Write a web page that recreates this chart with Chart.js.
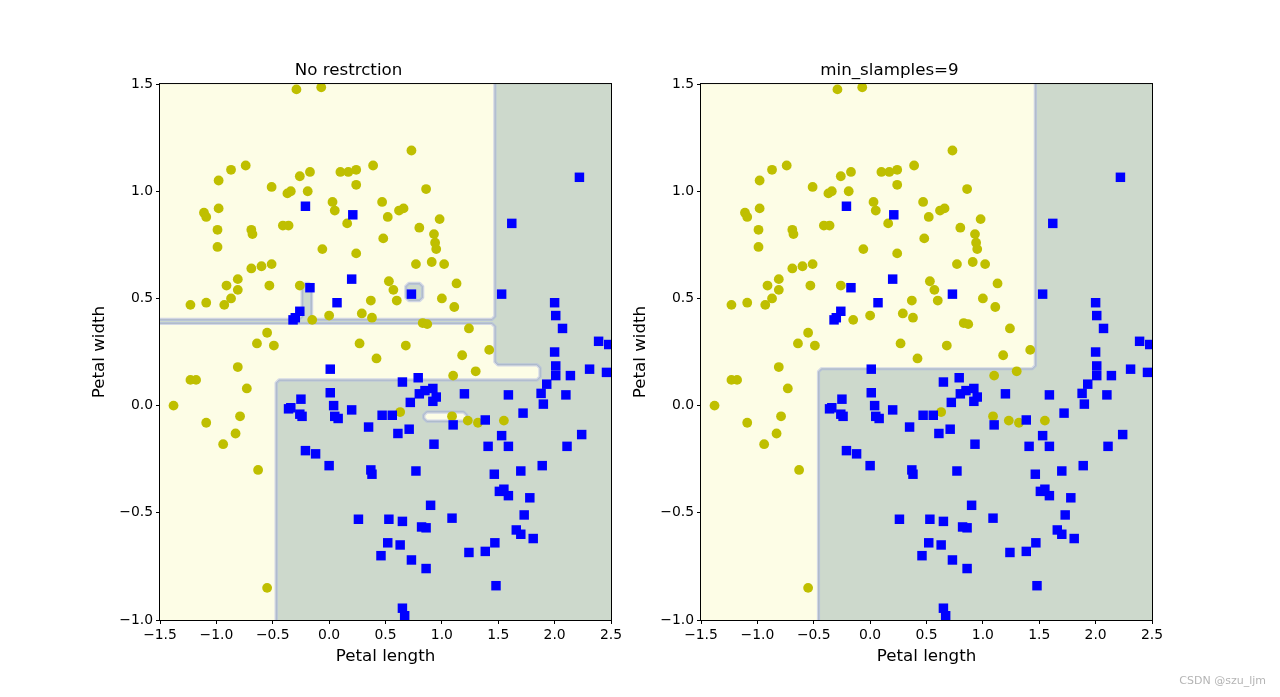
<!DOCTYPE html>
<html>
<head>
<meta charset="utf-8">
<script src="https://cdn.jsdelivr.net/npm/chart.js@4.4.0/dist/chart.umd.min.js"></script>
<style>
html, body { margin: 0; padding: 0; background: #fff; }
body { width: 1280px; height: 697px; position: relative; overflow: hidden; }
canvas { position: absolute; top: 0; }
#c1 { left: 0; }
#c2 { left: 541px; }
#wm { position: absolute; right: 14px; top: 674px; font: 11px "DejaVu Sans"; color: #b4b4b4; }
</style>
</head>
<body>
<canvas id="c1" width="640" height="697"></canvas>
<canvas id="c2" width="640" height="697"></canvas>
<div id="wm">CSDN @szu_ljm</div>
<script>
// class 0 (yellow circles)
const yellowPts = [
    [-0.29, 1.475], [-0.07, 1.485], [-0.87, 1.10], [-0.74, 1.12], [-0.98, 1.05], [-0.51, 1.02],
    [-0.26, 1.07], [-0.17, 1.09], [-0.37, 0.99], [-0.34, 1.0], [-0.19, 1.0], [-1.11, 0.90],
    [-1.09, 0.88], [-0.98, 0.92], [-0.99, 0.82], [-0.69, 0.82], [-0.68, 0.80], [-0.41, 0.84],
    [-0.36, 0.84], [-0.99, 0.74], [-0.69, 0.64], [-0.60, 0.65], [-0.51, 0.66], [-0.91, 0.56],
    [-0.81, 0.59], [-0.81, 0.54], [-0.53, 0.56], [-0.26, 0.56], [-1.23, 0.47], [-1.09, 0.48],
    [-0.93, 0.47], [-0.87, 0.50], [-0.15, 0.40], [-0.55, 0.34], [-0.64, 0.29], [-0.49, 0.28],
    [0.73, 1.19], [0.10, 1.09], [0.17, 1.09], [0.24, 1.10], [0.39, 1.12], [0.24, 1.03],
    [0.86, 1.01], [0.03, 0.95], [0.05, 0.91], [0.47, 0.95], [0.16, 0.85], [0.52, 0.88],
    [0.62, 0.91], [0.66, 0.92], [0.98, 0.87], [0.80, 0.83], [0.93, 0.80], [0.94, 0.76],
    [0.95, 0.73], [0.48, 0.78], [-0.06, 0.73], [0.24, 0.71], [0.77, 0.66], [0.91, 0.67],
    [1.02, 0.66], [1.13, 0.57], [0.53, 0.58], [0.57, 0.54], [0.60, 0.49], [1.0, 0.50],
    [1.11, 0.46], [0.37, 0.49], [0.29, 0.43], [0.38, 0.41], [0.0, 0.42], [0.83, 0.385],
    [0.87, 0.38], [0.27, 0.29], [0.68, 0.28], [1.24, 0.36], [1.42, 0.26], [1.18, 0.235],
    [-0.81, 0.18], [-1.23, 0.12], [-1.18, 0.12], [-0.73, 0.08], [-1.38, 0.0], [-1.09, -0.08],
    [-0.79, -0.05], [-0.83, -0.13], [-0.94, -0.18], [-0.63, -0.30], [-0.55, -0.85],
    [0.42, 0.22], [1.10, 0.14], [0.63, -0.03], [1.09, -0.05], [1.30, 0.16], [1.23, -0.07],
    [1.32, -0.08], [1.55, -0.07]
];

// class 1 (blue squares)
const bluePts = [
    [-0.21, 0.93], [0.21, 0.89], [0.20, 0.59], [-0.17, 0.55], [0.07, 0.48], [-0.26, 0.44],
    [-0.32, 0.40], [-0.30, 0.41], [0.73, 0.52], [1.53, 0.52], [1.62, 0.85], [2.22, 1.065],
    [2.0, 0.48], [2.01, 0.42], [2.07, 0.36], [2.39, 0.30], [2.48, 0.285], [2.0, 0.25],
    [-0.25, 0.03], [-0.34, -0.01], [-0.36, -0.015], [-0.26, -0.04], [-0.24, -0.05],
    [-0.21, -0.21], [-0.12, -0.225],
    [0.01, 0.17], [0.65, 0.11], [0.79, 0.13], [0.01, 0.06], [0.80, 0.055], [0.85, 0.07],
    [0.92, 0.08], [0.92, 0.02], [0.95, 0.04], [0.72, 0.015], [0.04, 0.0], [0.05, -0.05],
    [0.08, -0.06], [0.20, -0.02], [0.47, -0.045], [0.56, -0.045], [0.35, -0.10], [0.61, -0.13],
    [0.71, -0.11], [1.10, -0.09], [0.93, -0.18], [0.0, -0.28], [0.37, -0.30], [0.38, -0.32],
    [0.77, -0.305], [0.90, -0.465], [0.26, -0.53], [0.53, -0.53], [0.65, -0.54], [0.82, -0.566],
    [0.86, -0.57], [1.09, -0.525], [0.52, -0.64], [0.63, -0.65], [0.46, -0.70], [0.73, -0.72],
    [0.86, -0.76], [0.65, -0.945], [0.67, -0.98], [1.2, 0.055],
    [2.01, 0.185], [2.01, 0.14], [2.14, 0.14], [2.31, 0.17], [2.46, 0.155], [1.93, 0.10],
    [1.88, 0.057], [1.90, 0.007], [2.10, 0.05], [1.59, 0.05], [1.72, -0.035], [1.385, -0.067],
    [1.53, -0.14], [1.41, -0.19], [1.59, -0.19], [2.24, -0.135], [2.11, -0.19], [1.465, -0.32],
    [1.70, -0.305], [1.89, -0.28], [1.55, -0.39], [1.51, -0.40], [1.59, -0.42], [1.78, -0.43],
    [1.73, -0.51], [1.66, -0.58], [1.70, -0.60], [1.81, -0.62], [1.47, -0.64], [1.385, -0.68],
    [1.24, -0.685], [1.48, -0.84]
];

const xTicks = [-1.5, -1.0, -0.5, 0.0, 0.5, 1.0, 1.5, 2.0, 2.5];
const yTicks = [-1.0, -0.5, 0.0, 0.5, 1.0, 1.5];

// decision regions (data coords)
const leftGreen = [
    [[2.6, 1.6], [1.47, 1.6], [1.47, 0.402], [-0.155, 0.402], [-0.155, 0.57], [-0.24, 0.57],
     [-0.24, 0.402], [-1.6, 0.402], [-1.6, 0.383], [1.47, 0.383], [1.47, 0.19], [1.87, 0.19],
     [1.87, 0.12], [-0.47, 0.12], [-0.47, -1.1], [2.6, -1.1]],
    [[0.68, 0.57], [0.83, 0.57], [0.83, 0.49], [0.68, 0.49]]
];
const leftYellowHoles = [
    [[0.84, -0.03], [1.22, -0.03], [1.22, -0.072], [0.84, -0.072]]
];
const rightGreen = [
    [[2.6, 1.6], [1.465, 1.6], [1.465, 0.172], [-0.458, 0.172], [-0.458, -1.1], [2.6, -1.1]]
];

const FONT = '"DejaVu Sans", sans-serif';
const YELLOW_BG = '#fdfde6';
const GREEN_BG = '#cdd9cc';

function bevel(pts, d) {
    const out = [];
    const n = pts.length;
    for (let i = 0; i < n; i++) {
        const p = pts[i], a = pts[(i + n - 1) % n], b = pts[(i + 1) % n];
        const la = Math.hypot(a[0] - p[0], a[1] - p[1]);
        const lb = Math.hypot(b[0] - p[0], b[1] - p[1]);
        const da = Math.min(d, la / 2), db = Math.min(d, lb / 2);
        out.push([p[0] + (a[0] - p[0]) * da / la, p[1] + (a[1] - p[1]) * da / la]);
        out.push([p[0] + (b[0] - p[0]) * db / lb, p[1] + (b[1] - p[1]) * db / lb]);
    }
    return out;
}

const regionPlugin = {
    id: 'regions',
    beforeDatasetsDraw(chart, args, opts) {
        const {ctx, chartArea: a, scales: {x, y}} = chart;
        const path = poly => {
            const px = bevel(poly.map(p => [x.getPixelForValue(p[0]), y.getPixelForValue(p[1])]), 3);
            ctx.beginPath();
            px.forEach((p, i) => i ? ctx.lineTo(p[0], p[1]) : ctx.moveTo(p[0], p[1]));
            ctx.closePath();
        };
        ctx.save();
        ctx.beginPath();
        ctx.rect(a.left, a.top, a.right - a.left, a.bottom - a.top);
        ctx.clip();
        ctx.fillStyle = YELLOW_BG;
        ctx.fillRect(a.left, a.top, a.right - a.left, a.bottom - a.top);
        ctx.fillStyle = GREEN_BG;
        opts.green.forEach(p => { path(p); ctx.fill(); });
        ctx.fillStyle = YELLOW_BG;
        opts.holes.forEach(p => { path(p); ctx.fill(); });
        const all = opts.green.concat(opts.holes);
        ctx.lineJoin = 'round';
        ctx.strokeStyle = 'rgba(160,170,230,0.45)';
        ctx.lineWidth = 3.2;
        all.forEach(p => { path(p); ctx.stroke(); });
        ctx.strokeStyle = 'rgba(130,145,155,0.3)';
        ctx.lineWidth = 1;
        all.forEach(p => { path(p); ctx.stroke(); });
        ctx.restore();
    }
};

const framePlugin = {
    id: 'frame',
    afterDatasetsDraw(chart) {
        const {ctx, chartArea: a} = chart;
        ctx.save();
        ctx.strokeStyle = '#000';
        ctx.lineWidth = 1;
        ctx.strokeRect(a.left - 0.5, a.top - 0.5, a.right - a.left + 1, a.bottom - a.top + 1);
        ctx.restore();
    }
};

const fmt = v => (v < 0 ? '\u2212' : '') + Math.abs(v).toFixed(1);

function axis(ticks, label, fit) {
    return {
        type: 'linear',
        min: ticks[0],
        max: ticks[ticks.length - 1],
        afterBuildTicks: s => { s.ticks = ticks.map(v => ({value: v})); },
        afterFit: fit,
        ticks: {callback: fmt, color: '#000', font: {family: FONT, size: 13.9}, padding: 3,
                maxRotation: 0, autoSkip: false},
        grid: {drawOnChartArea: false, tickLength: 4, color: '#000', tickColor: '#000', tickWidth: 1},
        border: {display: false},
        title: {display: true, text: label, color: '#000', font: {family: FONT, size: 16.7},
                padding: {top: 4, bottom: 4}}
    };
}

function makeChart(id, title, green, holes) {
    new Chart(document.getElementById(id), {
        type: 'scatter',
        data: {
            datasets: [
                {data: bluePts.map(p => ({x: p[0], y: p[1]})), pointStyle: 'rect', pointRadius: 6.7,
                 backgroundColor: '#0000ff', borderWidth: 0, clip: 0},
                {data: yellowPts.map(p => ({x: p[0], y: p[1]})), pointStyle: 'circle', pointRadius: 4.9,
                 backgroundColor: '#bfbf00', borderWidth: 0, clip: 0}
            ]
        },
        options: {
            responsive: false,
            animation: false,
            devicePixelRatio: 1,
            layout: {padding: {left: 86, right: 29, top: 0, bottom: 26}},
            plugins: {
                legend: {display: false},
                tooltip: {enabled: false},
                title: {display: true, text: title, color: '#000',
                        font: {family: FONT, size: 16.7, weight: 'normal'},
                        padding: {top: 61, bottom: 3}},
                regions: {green: green, holes: holes}
            },
            scales: {
                x: axis(xTicks, 'Petal length', s => { s.height = 51; }),
                y: axis(yTicks, 'Petal width', s => { s.width = 74; })
            }
        },
        plugins: [regionPlugin, framePlugin]
    });
}

makeChart('c1', 'No restrction', leftGreen, leftYellowHoles);
makeChart('c2', 'min_slamples=9', rightGreen, []);
</script>
</body>
</html>
